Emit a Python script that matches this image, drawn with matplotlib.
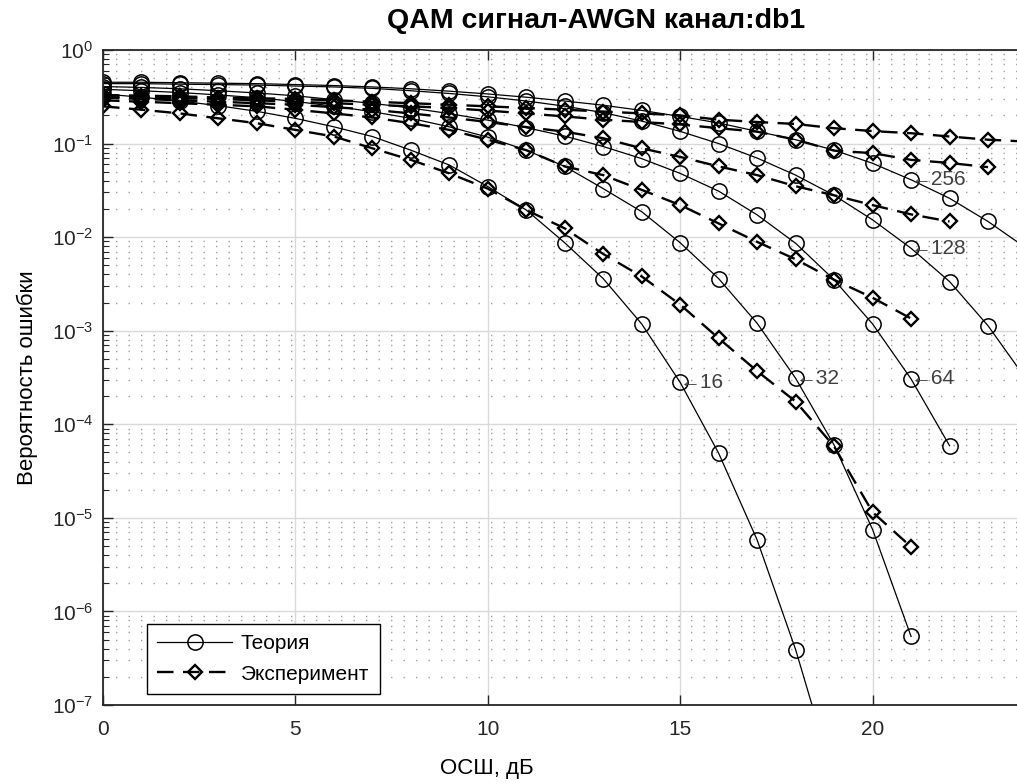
import numpy as np
import matplotlib as mpl
mpl.use("agg")
import matplotlib.pyplot as plt
import matplotlib.ticker as ticker

mpl.rcParams['font.family'] = ['Liberation Sans', 'DejaVu Sans']
mpl.rcParams['font.size'] = 15

# SNR grid (dB) and theoretical error probabilities (circles, solid)
snr = np.arange(0, 25)
theory_16 = [0.339, 0.313, 0.285, 0.254, 0.221, 0.186, 0.151, 0.119, 0.085, 0.059,
             0.0347, 0.0195, 0.0087, 0.0036, 0.00118, 2.8e-4, 4.9e-5, 5.8e-6, 3.9e-7, 1.6e-8]
theory_32 = [0.38, 0.367, 0.351, 0.331, 0.309, 0.282, 0.251, 0.219, 0.186, 0.151,
             0.117, 0.085, 0.057, 0.033, 0.0187, 0.0087, 0.0036, 0.0012, 3.1e-4, 6e-5,
             7.5e-6, 5.4e-7]
theory_64 = [0.407, 0.398, 0.385, 0.367, 0.347, 0.324, 0.295, 0.269, 0.24, 0.209,
             0.178, 0.148, 0.12, 0.093, 0.069, 0.048, 0.031, 0.0173, 0.0086, 0.0035,
             0.00118, 3.05e-4, 5.9e-5]
theory_128 = [0.437, 0.437, 0.431, 0.427, 0.422, 0.412, 0.403, 0.389, 0.367, 0.343,
              0.316, 0.285, 0.251, 0.214, 0.174, 0.135, 0.1, 0.07, 0.046, 0.028,
              0.0153, 0.0076, 0.00335, 0.00113, 3e-4]
theory_256 = [0.452, 0.452, 0.447, 0.442, 0.437, 0.427, 0.417, 0.403, 0.385, 0.363,
              0.339, 0.313, 0.285, 0.257, 0.226, 0.195, 0.166, 0.135, 0.11, 0.085,
              0.0615, 0.041, 0.026, 0.0147, 0.0076]

# experimental error rates (diamonds, dashed)
exp_16 = [0.25, 0.23, 0.21, 0.186, 0.165, 0.14, 0.119, 0.089, 0.067, 0.048,
          0.033, 0.0195, 0.0124, 0.0066, 0.0038, 0.0019, 8.3e-4, 3.7e-4, 1.75e-4, 5.8e-5,
          1.15e-5, 4.9e-6]
exp_32 = [0.29, 0.28, 0.27, 0.26, 0.25, 0.23, 0.21, 0.19, 0.165, 0.14,
          0.11, 0.085, 0.057, 0.046, 0.032, 0.022, 0.014, 8.9e-3, 5.8e-3, 3.5e-3,
          2.25e-3, 1.35e-3]
exp_64 = [0.31, 0.3, 0.29, 0.28, 0.27, 0.26, 0.245, 0.23, 0.21, 0.19,
          0.17, 0.15, 0.134, 0.114, 0.089, 0.072, 0.057, 0.046, 0.035, 0.028,
          0.022, 0.0175, 0.0147]
exp_128 = [0.32, 0.31, 0.305, 0.3, 0.29, 0.28, 0.27, 0.26, 0.25, 0.24,
           0.225, 0.21, 0.195, 0.18, 0.17, 0.16, 0.146, 0.134, 0.11, 0.084,
           0.079, 0.067, 0.062, 0.056]
exp_256 = [0.33, 0.325, 0.32, 0.31, 0.305, 0.3, 0.29, 0.28, 0.27, 0.26,
           0.25, 0.24, 0.23, 0.22, 0.21, 0.2, 0.18, 0.17, 0.162, 0.146,
           0.136, 0.129, 0.119, 0.11, 0.105]

theory = {16: theory_16, 32: theory_32, 64: theory_64, 128: theory_128, 256: theory_256}
experiment = {16: exp_16, 32: exp_32, 64: exp_64, 128: exp_128, 256: exp_256}
# where the order label sits (SNR point of the theory curve)
label_at = {16: 15, 32: 18, 64: 21, 128: 21, 256: 21}

fig = plt.figure(figsize=(10.17, 7.84), dpi=100)
ax = fig.add_axes([103/1017, 79/784, 962/1017, 655/784])

for i, M in enumerate(theory):
    t = theory[M]
    e = experiment[M]
    ax.semilogy(snr[:len(t)], t, '-', color='k', lw=0.9, marker='o', ms=11,
                mfc='none', mec='k', mew=1.1,
                label='Теория' if i == 0 else None)
    ax.semilogy(snr[:len(e)], e, color='k', lw=1.7, ls=(0, (7, 4)), marker='D', ms=7.5,
                mfc='none', mec='k', mew=1.7,
                label='Эксперимент' if i == 0 else None)

for M, xi in label_at.items():
    ax.text(xi, theory[M][xi], '\u2190' + str(M), ha='left', va='center',
            color='#404040', fontsize=15)

ax.set_xlim(0, 25)
ax.set_ylim(1e-7, 1)
ax.set_xticks([0, 5, 10, 15, 20])
ax.set_yticks([10.0**k for k in range(-7, 1)])
ax.yaxis.set_minor_locator(ticker.LogLocator(base=10, subs=np.arange(2, 10), numticks=20))
ax.yaxis.set_minor_formatter(ticker.NullFormatter())

ax.set_axisbelow(True)
ax.grid(True, which='major', color='#d9d9d9', lw=1.0, ls='-')
ax.grid(True, which='minor', axis='y', color='#a0a0a0', lw=1.0, ls=(0, (1, 8)))

ax.tick_params(which='both', direction='in', top=True, right=True, colors='#262626')
ax.tick_params(which='major', length=7, width=1.0)
ax.tick_params(which='minor', length=4, width=0.8)
ax.tick_params(axis='x', pad=11, labelsize=15)
ax.tick_params(axis='y', pad=7, labelsize=15)
for s in ax.spines.values():
    s.set_color('#262626')
    s.set_linewidth(1.3)

ax.set_xlabel('ОСШ, дБ', fontsize=16)
ax.xaxis.set_label_coords((487 - 103) / 962, -(758 - 705) / 655)
ax.set_ylabel('Вероятность ошибки', fontsize=16)
ax.yaxis.set_label_coords((38 - 103) / 962, 0.5)

fig.text(596 / 1017, 1 - 21 / 784, 'QAM сигнал-AWGN канал:db1', ha='center', va='center',
         fontsize=20.5, fontweight='bold')

legend = ax.legend(loc='lower left', bbox_to_anchor=(147 / 1017, 1 - 694 / 784),
                   bbox_transform=fig.transFigure, borderaxespad=0, fancybox=False,
                   framealpha=1.0, handlelength=3.6, fontsize=15, labelspacing=0.55,
                   borderpad=0.5, handletextpad=0.4)
legend.get_frame().set_edgecolor('black')
legend.get_frame().set_linewidth(1.0)

fig.savefig('out.png', dpi=100)
